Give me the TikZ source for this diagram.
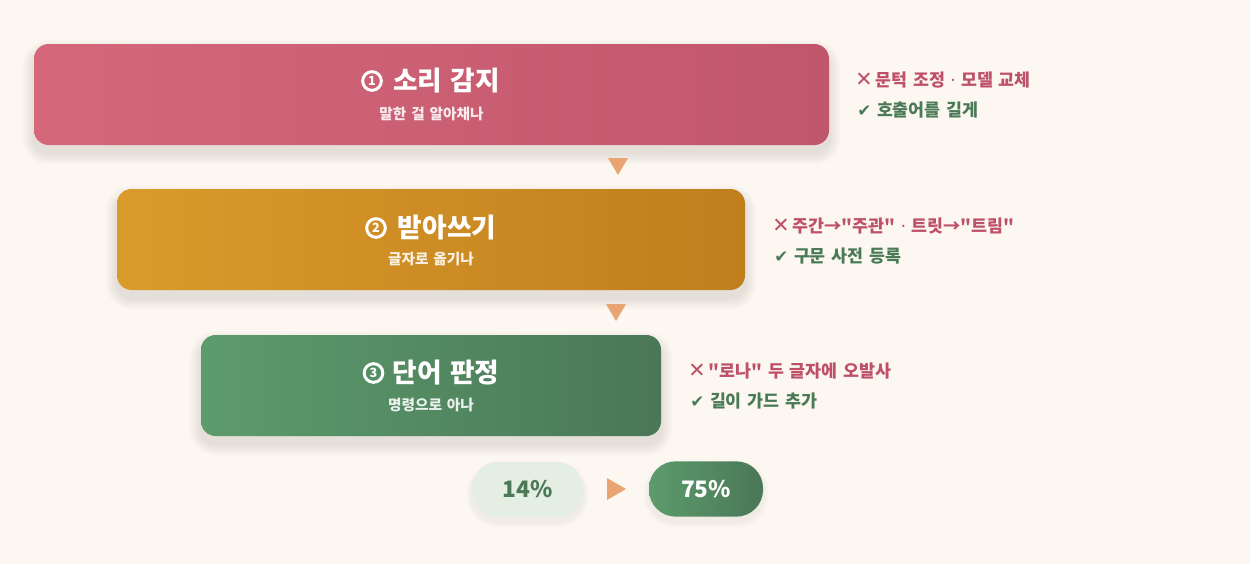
\documentclass[tikz,border=0pt]{standalone}
\usepackage{fontspec}
\setmainfont{Noto Sans CJK KR}[Ligatures=TeXOff]
\newfontfamily\notefont{Noto Sans CJK KR}[Ligatures=TeXOff, WordSpace=1.45]
\newfontfamily\symfont{DejaVu Sans}
\newfontfamily\dotfont{Noto Sans}
\usetikzlibrary{calc}
\pgfdeclarelayer{back}
\pgfdeclarelayer{shade}
\pgfsetlayers{back,shade,main}
\definecolor{bg}{HTML}{FCF8F1}
\definecolor{roseL}{HTML}{D5677B}
\definecolor{roseR}{HTML}{C0566C}
\definecolor{amberL}{HTML}{DA9B2B}
\definecolor{amberR}{HTML}{C07E1D}
\definecolor{sageL}{HTML}{5C9B6C}
\definecolor{sageR}{HTML}{4A7757}
\definecolor{badtext}{HTML}{BE5068}
\definecolor{goodtext}{HTML}{4B7A57}
\definecolor{peach}{HTML}{E8A472}
\definecolor{mint}{HTML}{E4EEE2}
\tikzstyle{stage} = [rectangle, rounded corners=11pt, minimum height=75.75pt, inner sep=0pt]
\tikzstyle{ring} = [circle, draw=white, line width=2.2pt, minimum size=14pt, inner sep=0pt, text=white, font=\fontsize{9.5}{10}\selectfont\bfseries]
\tikzstyle{title} = [text=white, font=\fontsize{20}{24}\selectfont\bfseries, inner sep=0pt]
\tikzstyle{sub} = [text=white, text opacity=0.88, font=\fontsize{11}{13}\selectfont\bfseries, inner sep=0pt]
\tikzstyle{bad} = [anchor=west, text=badtext, font=\notefont\fontsize{13}{15}\selectfont\bfseries, inner sep=0pt]
\tikzstyle{good} = [anchor=west, text=goodtext, font=\notefont\fontsize{13}{15}\selectfont\bfseries, inner sep=0pt]
\tikzstyle{pill} = [rectangle, rounded corners=20pt, minimum height=41.5pt, font=\fontsize{17}{20}\selectfont\bfseries]
\tikzstyle{tipmark} = [fill=peach]
\tikzstyle{haze} = [rectangle, fill=black, draw=none, opacity=0.0085, inner sep=0pt]
\newcommand{\nay}{{\symfont\fontsize{15.5}{15}\selectfont ✕}\,}
\newcommand{\yea}{{\symfont\fontsize{12.5}{13}\selectfont ✔}\,\,}
\newcommand{\mdot}{ {\dotfont\bfseries ·} }
\begin{document}
\begin{tikzpicture}[x=0.75pt, y=-0.75pt]
\begin{pgfonlayer}{back}
\useasboundingbox [fill=bg] (0,0) rectangle (1250,564);
\end{pgfonlayer}

%% STAGES
\node (sense) [stage, minimum width=596.25pt, left color=roseL, right color=roseR] at (431.5,94.5) {};
\node (write) [stage, minimum width=471pt, left color=amberL, right color=amberR] at (431,239.5) {};
\node (judge) [stage, minimum width=345pt, left color=sageL, right color=sageR] at (431,385.5) {};

\node (senseN) [ring] at (372,81) {1};
\node (senseT) [title] at (446.5,81) {소리 감지};
\node (senseS) [sub] at (431.5,114) {말한 걸 알아채나};
\node (writeN) [ring] at (376,228) {2};
\node (writeT) [title] at (447,228) {받아쓰기};
\node (writeS) [sub] at (431,259) {글자로 옮기나};
\node (judgeN) [ring] at (373.5,373) {3};
\node (judgeT) [title] at (446,373) {단어 판정};
\node (judgeS) [sub] at (431,405) {명령으로 아나};

%% NOTES
\node (senseBad) [bad] at (855,80) {\nay 문턱 조정\mdot 모델 교체};
\node (senseGood) [good] at (857,110) {\yea 호출어를 길게};
\node (writeBad) [bad] at (772,226) {\nay 주간→"주관"\mdot 트릿→"트림"};
\node (writeGood) [good] at (774,256) {\yea 구문 사전 등록};
\node (judgeBad) [bad] at (688,371) {\nay "로나" 두 글자에 오발사};
\node (judgeGood) [good] at (690,401) {\yea 길이 가드 추가};

%% RESULT
\node (before) [pill, minimum width=83.25pt, fill=mint, text=goodtext] at (527.5,489.5) {14\%};
\node (after) [pill, minimum width=85.5pt, left color=sageL, right color=sageR, text=white] at (706,489) {75\%};

%% SHADOWS
\begin{pgfonlayer}{shade}
\foreach \n/\w/\h/\r/\d/\k in {sense/795/101/11/8/12, write/628/101/11/8/12, judge/460/101/11/8/12, before/111/55/20/5/6, after/114/56/20/5/6}
  \foreach \s in {1,...,\k}
    \node (\n haze\s) [haze, minimum width=(\w+2*\s)*0.75pt, minimum height=(\h+2*\s)*0.75pt, rounded corners=\r pt+\s*0.75pt] at ($(\n.center)+(0,\d)$) {};
\end{pgfonlayer}

%% MARKS
\fill [tipmark] (608,158) -- (628,158) -- (618,175) -- cycle;
\fill [tipmark] (606,304) -- (626,304) -- (616,321) -- cycle;
\fill [tipmark] (607,478) -- (626,489) -- (607,500) -- cycle;
\end{tikzpicture}
\end{document}
